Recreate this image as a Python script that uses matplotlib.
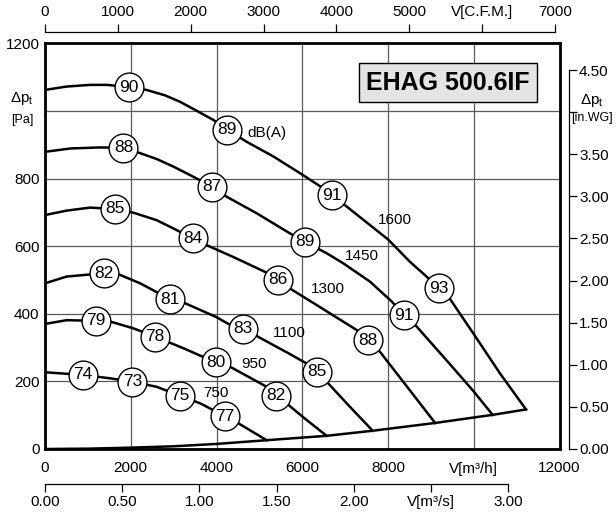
import numpy as np
import matplotlib
matplotlib.use('Agg')
import matplotlib.pyplot as plt

plt.rcParams['font.family'] = ['Liberation Sans', 'DejaVu Sans']
plt.rcParams['mathtext.fontset'] = 'custom'
plt.rcParams['mathtext.rm'] = 'Liberation Sans'

# fan curves, flow in m3/h, total pressure in Pa
c1600_x = [0, 500, 1050, 1450, 1960, 2370, 2800, 3150, 3500, 3930, 4240, 4700, 5330, 6020, 6490, 6700,
           8000, 8510, 8900, 9190, 9450, 10000, 10610, 11219]
c1600_y = [1062, 1072, 1077, 1077, 1070, 1062, 1046, 1027, 1003, 973, 945, 909, 865, 810, 771, 751,
           620, 554, 510, 475, 443, 340, 224, 117]

c1450_x = [0, 600, 1280, 1830, 2220, 2600, 3000, 3540, 3900, 4240, 4940, 5710, 6060, 6570, 6960, 7580,
           8090, 8370, 8670, 9520, 10000, 10440]
c1450_y = [879, 889, 892, 891, 875, 858, 835, 800, 776, 746, 697, 638, 613, 579, 549, 495,
           436, 396, 362, 240, 170, 101]

c1300_x = [0, 500, 1050, 1630, 2060, 2600, 3000, 3450, 3770, 4390, 5130, 5430, 5710, 6410, 6800, 7270,
           7530, 7810, 9100]
c1300_y = [692, 705, 714, 710, 699, 677, 652, 623, 603, 568, 524, 500, 475, 420, 389, 352,
           322, 288, 77]

c1100_x = [0, 500, 1380, 1750, 2220, 2920, 3270, 4000, 4320, 4610, 4940, 5710, 6100, 6340, 6570, 7110, 7643]
c1100_y = [490, 510, 520, 515, 490, 443, 431, 390, 367, 355, 334, 281, 253, 229, 199, 125, 54]

c950_x = [0, 505, 1190, 1520, 2060, 2570, 3230, 3980, 4320, 5170, 5380, 5680, 6100, 6570]
c950_y = [370, 381, 379, 377, 357, 332, 298, 256, 243, 184, 158, 130, 86, 39]

c750_x = [0, 890, 1520, 2040, 2600, 3150, 3620, 4200, 4510, 5170]
c750_y = [227, 219, 209, 199, 184, 158, 135, 97, 76, 26]

# lower limit of the working range
limit_x = [0, 1000, 2000, 3000, 4000, 5170, 6570, 7643, 9100, 10440, 11219]
limit_y = [0, 1, 4, 8, 15, 26, 39, 54, 77, 101, 117]

speeds = ['1600', '1450', '1300', '1100', '950', '750']

# sound levels dB(A) on each curve and where along the flow axis they sit
db_values = [[90, 89, 91, 93], [88, 87, 89, 91], [85, 84, 86, 88],
             [82, 81, 83, 85], [79, 78, 80, 82], [74, 73, 75, 77]]
db_flows = [[1960, 4240, 6700, 9190], [1830, 3900, 6060, 8370], [1630, 3450, 5430, 7530],
            [1380, 2920, 4610, 6340], [1190, 2570, 3980, 5380], [890, 2040, 3150, 4200]]

curves = [(c1600_x, c1600_y), (c1450_x, c1450_y), (c1300_x, c1300_y),
          (c1100_x, c1100_y), (c950_x, c950_y), (c750_x, c750_y)]

# where the rpm labels go
speed_label_pos = [(8163, 677), (7394, 571), (6608, 472), (5698, 342), (4875, 251), (3988, 167)]

x_ticks = [0, 2000, 4000, 6000, 8000, 10000, 12000]
x_ticklabels = ['0', '2000', '4000', '6000', '8000', 'V[m³/h]', '12000']
y_ticks = [0, 200, 400, 600, 800, 1000, 1200]
y_ticklabels = ['0', '200', '400', '600', '800', '', '1200']

cfm_ticks = [0, 1000, 2000, 3000, 4000, 5000, 6000, 7000]
cfm_ticklabels = ['0', '1000', '2000', '3000', '4000', '5000', 'V[C.F.M.]', '7000']
m3s_ticks = [0, 0.5, 1.0, 1.5, 2.0, 2.5, 3.0]
m3s_ticklabels = ['0.00', '0.50', '1.00', '1.50', '2.00', 'V[m³/s]', '3.00']
inwg_ticks = [0, 0.5, 1.0, 1.5, 2.0, 2.5, 3.0, 3.5, 4.0, 4.5]
inwg_ticklabels = ['0.00', '0.50', '1.00', '1.50', '2.00', '2.50', '3.00', '3.50', '', '4.50']

fig = plt.figure(figsize=(6.16, 5.13), dpi=100)
ax = fig.add_axes([45 / 616, 64 / 513, 514.5 / 616, 405.7 / 513])
ax.set_xlim(0, 12000)
ax.set_ylim(0, 1200)

ax.set_xticks(x_ticks)
ax.set_xticklabels(x_ticklabels)
ax.set_yticks(y_ticks)
ax.set_yticklabels(y_ticklabels)
ax.tick_params(length=0, labelsize=11)
ax.tick_params(axis='x', pad=9)
ax.tick_params(axis='y', pad=4)
ax.grid(True, color='#5a5a5a', lw=0.9)
for s in ax.spines.values():
    s.set_linewidth(2.0)
    s.set_zorder(5)

for (cx, cy), lab, pos in zip(curves, speeds, speed_label_pos):
    ax.plot(cx, cy, color='k', lw=1.8, solid_joinstyle='round', zorder=3)
    ax.text(pos[0], pos[1], lab, fontsize=11, ha='center', va='center', zorder=4)

ax.plot(limit_x, limit_y, color='k', lw=1.8, solid_joinstyle='round', zorder=3)

for (cx, cy), vals, flows in zip(curves, db_values, db_flows):
    py = np.interp(flows, cx, cy)
    ax.scatter(flows, py, s=430, facecolor='white', edgecolor='k', lw=1.0, zorder=4)
    for fx, fy, v in zip(flows, py, vals):
        ax.text(fx, fy, str(v), fontsize=12.5, ha='center', va='center', zorder=5)

ax.text(5171, 935, 'dB(A)', fontsize=11, ha='center', va='center', zorder=4)

ax.text(0.783, 0.903, 'EHAG 500.6IF', transform=ax.transAxes, fontsize=18, fontweight='bold',
        ha='center', va='center', zorder=6,
        bbox=dict(boxstyle='square,pad=0.3', facecolor='#e4e4e4', edgecolor='k', lw=1.0))

# pressure labels
ax.text(-0.045, 0.865, r'$\Delta$p$_\mathregular{t}$', transform=ax.transAxes, fontsize=11,
        ha='center', va='center')
ax.text(-0.045, 0.811, '[Pa]', transform=ax.transAxes, fontsize=9, ha='center', va='center')
ax.text(1.063, 0.860, r'$\Delta$p$_\mathregular{t}$', transform=ax.transAxes, fontsize=11,
        ha='center', va='center')
ax.text(1.022, 0.816, '[in.WG]', transform=ax.transAxes, fontsize=9, ha='left', va='center')

# extra unit scales
top = ax.secondary_xaxis(1 + 11 / 405.7, functions=(lambda x: x / 1.699, lambda x: x * 1.699))
top.set_xticks(cfm_ticks)
top.set_xticklabels(cfm_ticklabels)
top.spines['top'].set_bounds(0, 7000)
top.spines['top'].set_linewidth(0.9)
top.tick_params(direction='out', length=6, width=0.9, labelsize=11, pad=3.5)

bot = ax.secondary_xaxis(-35.3 / 405.7, functions=(lambda x: x / 3600, lambda x: x * 3600))
bot.set_alignment('bottom')
bot.set_xticks(m3s_ticks)
bot.set_xticklabels(m3s_ticklabels)
bot.spines['bottom'].set_bounds(0, 3.0)
bot.spines['bottom'].set_linewidth(0.9)
bot.tick_params(direction='out', length=6, width=0.9, labelsize=11, pad=2)

right = ax.secondary_yaxis(1 + 9.8 / 514.5, functions=(lambda y: y / 249.09, lambda y: y * 249.09))
right.set_yticks(inwg_ticks)
right.set_yticklabels(inwg_ticklabels)
right.spines['right'].set_bounds(0, 4.5)
right.spines['right'].set_linewidth(0.9)
right.tick_params(direction='out', length=6, width=0.9, labelsize=11, pad=1)

fig.savefig('out.png', dpi=100)
